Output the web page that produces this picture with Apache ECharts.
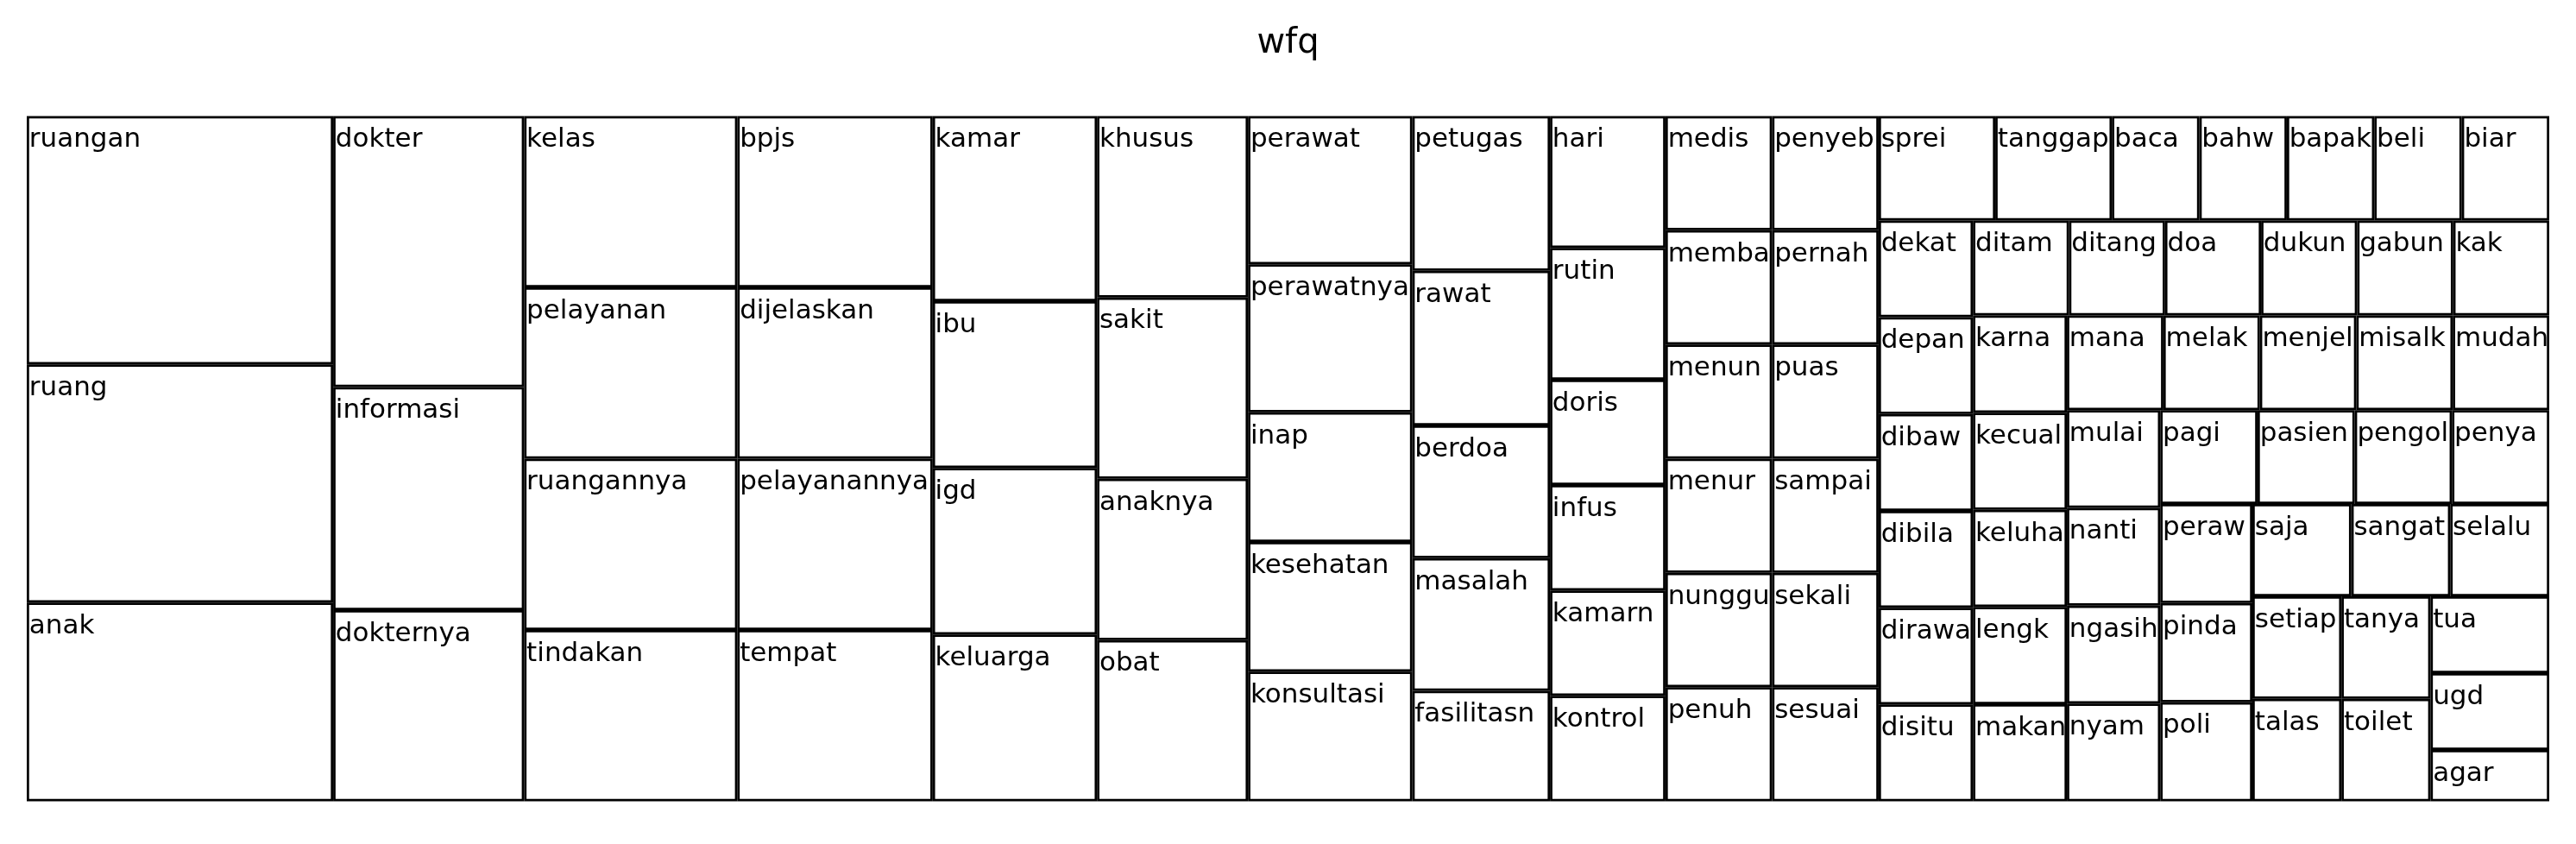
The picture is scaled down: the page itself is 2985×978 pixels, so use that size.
<!DOCTYPE html>
<html>
<head>
<meta charset="utf-8">
<script src="https://cdn.jsdelivr.net/npm/echarts@6/dist/echarts.min.js"></script>
<style>
html, body { margin: 0; padding: 0; background: #fff; }
#chart { width: 2985px; height: 978px; }
</style>
</head>
<body>
<div id="chart"></div>
<script>
const titleText = 'wfq';

const words = [
  'ruangan', 'ruang', 'anak', 'dokter', 'informasi', 'dokternya', 'kelas', 'pelayanan',
  'ruangannya', 'tindakan', 'bpjs', 'dijelaskan', 'pelayanannya', 'tempat', 'kamar',
  'ibu', 'igd', 'keluarga', 'khusus', 'sakit', 'anaknya', 'obat', 'perawat', 'perawatnya',
  'inap', 'kesehatan', 'konsultasi', 'petugas', 'rawat', 'berdoa', 'masalah',
  'fasilitasnya', 'hari', 'rutin', 'doris', 'infus', 'kamarnya', 'kontrol', 'medis',
  'membantu', 'menunggu', 'menurut', 'nunggu', 'penuh', 'penyebab', 'pernah', 'puas',
  'sampai', 'sekali', 'sesuai', 'sprei', 'tanggap', 'baca', 'bahwa', 'bapak', 'beli',
  'biar', 'dekat', 'depan', 'dibawa', 'dibilang', 'dirawat', 'disitu', 'ditambah',
  'ditanggung', 'doa', 'dukungan', 'gabung', 'kak', 'karna', 'kecuali', 'keluhan',
  'lengkap', 'makan', 'mana', 'melakukan', 'menjelaskan', 'misalkan', 'mudah', 'mulai',
  'nanti', 'ngasih', 'nyaman', 'pagi', 'pasien', 'pengolahan', 'penyakit', 'perawatan',
  'pindah', 'poli', 'saja', 'sangat', 'selalu', 'setiap', 'talasemia', 'tanya',
  'toiletnya', 'tua', 'ugd', 'agar'
];

const counts = [
  25, 24, 20, 17, 14, 12, 12, 12,
  12, 12, 11, 11, 11, 11, 10,
  9, 9, 9, 9, 9, 8, 8, 8, 8,
  7, 7, 7, 7, 7, 6, 6,
  5, 5, 5, 4, 4, 4, 4, 4,
  4, 4, 4, 4, 4, 4, 4, 4,
  4, 4, 4, 4, 4, 3, 3, 3, 3,
  3, 3, 3, 3, 3, 3, 3, 3,
  3, 3, 3, 3, 3, 3, 3, 3,
  3, 3, 3, 3, 3, 3, 3, 3,
  3, 3, 3, 3, 3, 3, 3, 3,
  3, 3, 3, 3, 3, 3, 3, 3,
  3, 3, 3, 2
];

const treeData = words.map((w, i) => ({ name: w, value: counts[i] }));

const chart = echarts.init(document.getElementById('chart'), null, { renderer: 'canvas' });
chart.setOption({
  animation: false,
  backgroundColor: '#ffffff',
  title: {
    text: titleText,
    left: 'center',
    top: 26,
    textStyle: {
      fontFamily: 'DejaVu Sans',
      fontSize: 40,
      fontWeight: 'normal',
      color: '#000'
    }
  },
  series: [{
    type: 'treemap',
    left: 31,
    top: 134.5,
    width: 2923,
    height: 794,
    sort: false,
    squareRatio: 1,
    roam: false,
    nodeClick: false,
    breadcrumb: { show: false },
    visibleMin: 0,
    label: {
      show: true,
      position: 'insideTopLeft',
      distance: 0,
      padding: [9.5, -3, 0, 0],
      color: '#000',
      fontFamily: 'DejaVu Sans',
      fontSize: 31,
      overflow: 'truncate',
      ellipsis: ''
    },
    levels: [
      { itemStyle: { borderWidth: 0, gapWidth: 0 } },
      { itemStyle: { borderWidth: 2.75, borderColor: '#000', color: '#fff', gapWidth: 0 } }
    ],
    data: treeData
  }]
});
</script>
</body>
</html>
